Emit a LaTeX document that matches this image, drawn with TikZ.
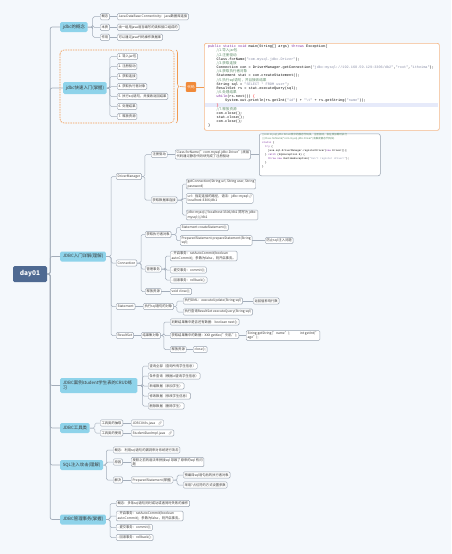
\documentclass[tikz,border=0pt]{standalone}
\usepackage{fontspec}
\setmainfont{Noto Sans CJK SC}
\newfontfamily\zhfont{Noto Sans CJK SC}
\newfontfamily\codefont{Liberation Mono}
\newfontfamily\emojifont{Noto Emoji}
\usetikzlibrary{decorations.pathreplacing}

\definecolor{bgblue}{HTML}{F4F8FC}
\definecolor{linegray}{HTML}{A3ADBA}
\definecolor{leafgray}{HTML}{97A1AE}
\definecolor{topicblue}{HTML}{8ED3EA}
\definecolor{rootblue}{HTML}{4F6A92}
\definecolor{txtgray}{HTML}{3A3A3A}
\definecolor{orangeline}{HTML}{F29A50}
\definecolor{orangetag}{HTML}{F08A3A}
\definecolor{codeborder}{HTML}{F5B98A}
\definecolor{hilite}{HTML}{E6EAFA}
\definecolor{kwpurple}{HTML}{7F2FA0}
\definecolor{strgray}{HTML}{8A8FA8}
\definecolor{cmgreen}{HTML}{5E8C6A}

\newcommand\kw[1]{{\color{kwpurple}#1}}
\newcommand\strg[1]{{\color{strgray}#1}}
\newcommand\cmt[1]{{\zhfont\color{cmgreen}#1}}
\newcommand\codeind[1]{\hspace*{#1}}
\newcommand\codeA{\codefont\fontsize{3.55}{4.16}\selectfont\lineskiplimit -5pt\relax}
\newcommand\codeB{\codefont\fontsize{2.55}{4.0}\selectfont\lineskiplimit -5pt\relax}

\tikzset{
  rootbox/.style={fill=rootblue, text=white, rounded corners=1.5pt, minimum width=34pt,
    minimum height=16pt, font=\fontsize{6.5}{7}\selectfont\bfseries},
  topic/.style={fill=topicblue, text=txtgray, rounded corners=1.5pt, anchor=west,
    inner xsep=2.6pt, inner ysep=1pt, minimum height=10pt, align=left,
    font=\fontsize{4.4}{5.4}\selectfont},
  leaf/.style={draw=leafgray, line width=0.45pt, fill=white, text=txtgray, rounded corners=1.2pt,
    anchor=west, inner xsep=1.4pt, inner ysep=1pt, minimum height=6.2pt, align=left,
    font=\fontsize{3.3}{4.3}\selectfont},
  trunk/.style={draw=linegray, line width=0.7pt, rounded corners=2pt},
  link/.style={draw=linegray, line width=0.5pt, rounded corners=1.5pt},
  orangelink/.style={draw=orangeline, line width=0.6pt},
  codetag/.style={fill=orangetag, text=white, rounded corners=1pt, inner xsep=1.5pt,
    minimum height=8pt, font=\fontsize{3.6}{4}\selectfont},
  codebox/.style={draw=codeborder, line width=0.7pt, fill=white, rounded corners=2pt, anchor=north west},
  codebox2/.style={draw=leafgray, line width=0.5pt, fill=white, rounded corners=2pt, anchor=north west},
  codetext/.style={anchor=north west, inner sep=0pt, align=left, text=black}
}

\begin{document}
\begin{tikzpicture}[x=1pt,y=-1pt]
\fill[bgblue] (0,0) rectangle (451,554);
\useasboundingbox (0,0) rectangle (451,554);

% root and main topics
\node[rootbox] (root) at (30,274) {day01};
\node[topic] (gainian) at (60,27) {jdbc的概念};
\node[topic, minimum height=12pt] (kuaisu) at (63,88) {jdbc快速入门(掌握)};
\node[topic] (xiangjie) at (60,256.5) {JDBC入门详解(理解)};
\node[topic, text width=72pt, minimum height=15pt] (anli) at (60,385.5) {JDBC案例student学生表的CRUD练\\习};
\node[topic] (gongju) at (60,428) {JDBC工具类};
\node[topic] (zhuru) at (60,465) {SQL注入攻击(理解)};
\node[topic] (shiwu) at (60,519.5) {JDBC管理事务(掌握)};
\foreach \t in {gainian,kuaisu,xiangjie,anli,gongju,zhuru,shiwu}
  \draw[trunk] (root.east) -- ++(3,0) |- (\t.west);

% jdbc的概念
\node[leaf] (gn1) at (100,16.7) {概念};
\node[leaf] (gn2) at (100,27.3) {本质};
\node[leaf] (gn3) at (100,37.3) {作用};
\node[leaf] (gn1a) at (117,16.7) {Java DataBase Connectivity：java数据库连接};
\node[leaf] (gn2a) at (117,27.3) {由一组用java语言编写的类和接口组成的};
\node[leaf] (gn3a) at (117,37.3) {可以通过java代码操作数据库};
\foreach \c in {gn1,gn2,gn3}
  \draw[link] (gainian.east) -- ++(5,0) |- (\c.west);
\draw[link] (gn1) -- (gn1a);
\draw[link] (gn2) -- (gn2a);
\draw[link] (gn3) -- (gn3a);

% jdbc快速入门
\draw[orangeline, line width=0.6pt, dash pattern=on 1.5pt off 1pt, rounded corners=4pt] (60,50) rectangle (174,123);
\foreach \txt [count=\k] in {1. 导入jar包, 2. 注册驱动, 3. 获取连接, 4. 获取执行者对象,
    5. 执行sql语句，并接收返回结果, 6. 处理结果, 7. 释放资源}
  \node[leaf] (ks\k) at (117,46.5+10*\k) {\txt};
\foreach \k in {1,...,7}
  \draw[link] (kuaisu.east) -- ++(3,0) |- (ks\k.west);
\draw[orangeline, line width=0.6pt, decorate, decoration={brace, amplitude=3pt}] (176,50) -- (176,123);
\coordinate (bracetip) at (180,86.5);
\node[codetag] (daima) at (191,87) {代码};
\node[codebox, minimum width=235pt, minimum height=87pt] (code1) at (204,43) {};
\fill[hilite] (205,103.1) rectangle (438,107.3);
\draw[orangelink] (bracetip) -- (daima.west);
\draw[orangelink] (daima.east) -- (daima.east -| code1.west);
\node[codetext, font=\codeA] (code1txt) at (208,45) {%
\kw{public static void} main(String[] args) \kw{throws} Exception\{\\
\codeind{8.5pt}\cmt{//1.导入jar包}\\
\codeind{8.5pt}\cmt{//2.注册驱动}\\
\codeind{8.5pt}Class.forName(\strg{"com.mysql.jdbc.Driver"});\\
\codeind{8.5pt}\cmt{//3.获取连接}\\
\codeind{8.5pt}Connection con = DriverManager.getConnection(\strg{"jdbc:mysql://192.168.59.129:3306/db2"},\strg{"root"},\strg{"itheima"});\\
\codeind{8.5pt}\cmt{//4.获取执行者对象}\\
\codeind{8.5pt}Statement stat = con.createStatement();\\
\codeind{8.5pt}\cmt{//5.执行sql语句，并且接收结果}\\
\codeind{8.5pt}String sql = \strg{"SELECT * FROM user"};\\
\codeind{8.5pt}ResultSet rs = stat.executeQuery(sql);\\
\codeind{8.5pt}\cmt{//6.处理结果}\\
\codeind{8.5pt}\kw{while}(rs.next()) {\color{red}\{}\\
\codeind{17pt}System.out.println(rs.getInt(\strg{"id"}) + \strg{"\textbackslash t"} + rs.getString(\strg{"name"}));\\
\codeind{8.5pt}{\color{red}\}}\\
\codeind{8.5pt}\cmt{//7.释放资源}\\
\codeind{8.5pt}con.close();\\
\codeind{8.5pt}stat.close();\\
\codeind{8.5pt}con.close();\\
\}};

% JDBC入门详解
\node[leaf] (dm) at (116,176.5) {DriverManager};
\node[leaf] (conn) at (116,263) {Connection};
\node[leaf] (stmt) at (116,306.5) {Statement};
\node[leaf] (rset) at (116,335.5) {ResultSet};
\foreach \c in {dm,conn,stmt,rset}
  \draw[link] (xiangjie.east) -- ++(5,0) |- (\c.west);

% DriverManager
\node[leaf] (zcqd) at (151,154.5) {注册驱动};
\node[leaf] (hqlj) at (151,200) {获取数据库连接};
\foreach \c in {zcqd,hqlj}
  \draw[link] (dm.east) -- ++(3,0) |- (\c.west);
\node[leaf] (zcqda) at (175,154.5) {Class.forName("com.mysql.jdbc.Driver")底层\\代码通过静态代码块完成了注册驱动};
\draw[link] (zcqd) -- (zcqda);
\node[codebox2, minimum width=121pt, minimum height=42pt] (code2) at (259,133.5) {};
\draw[link] (zcqda.east) -- (zcqda.east -| code2.west);
\node[codetext, font=\codeB] (code2txt) at (262,133.6) {%
\cmt{//com.mysql.jdbc.Driver类中的静态代码块，注册驱动，会在类加载时执行}\\
\cmt{//(Class.forName("com.mysql.jdbc.Driver")会触发静态代码块)}\\
\kw{static} \{\\
\codeind{3pt}\kw{try} \{\\
\codeind{6pt}java.sql.DriverManager.registerDriver(\kw{new} Driver());\\
\codeind{3pt}\} \kw{catch} (SQLException E) \{\\
\codeind{6pt}\kw{throw new} RuntimeException(\strg{"Can't register driver!"});\\
\codeind{3pt}\}\\
\}};
\node[leaf] (hqlj1) at (186,184) {getConnection(String url, String user, String\\password)};
\node[leaf] (hqlj2) at (186,198.5) {url：指定连接的路径，语法：jdbc:mysql://\\localhost:3306/db1};
\node[leaf] (hqlj3) at (186,215) {jdbc:mysql://localhost:3306/db1 简写为 jdbc:\\mysql:///db1};
\foreach \c in {hqlj1,hqlj2,hqlj3}
  \draw[link] (hqlj.east) -- ++(5,0) |- (\c.west);

% Connection
\node[leaf] (zxz) at (145,234.5) {获取执行者对象};
\node[leaf] (glsw) at (145,269) {管理事务};
\node[leaf] (sfzy) at (145,291.5) {释放资源};
\foreach \c in {zxz,glsw,sfzy}
  \draw[link] (conn.east) -- ++(4,0) |- (\c.west);
\node[leaf] (zxz1) at (180,227.5) {Statement createStatement();};
\node[leaf] (zxz2) at (180,240.5) {PreparedStatement prepareStatement(String\\sql);};
\foreach \c in {zxz1,zxz2}
  \draw[link] (zxz.east) -- ++(5,0) |- (\c.west);
\node[leaf] (fzzr) at (265,240.5) {防止sql 注入问题};
\draw[link] (zxz2) -- (fzzr);
\node[leaf] (glsw1) at (170,256) {- 开启事务：setAutoCommit(boolean\\autoCommit)；参数为false，则开启事务。};
\node[leaf] (glsw2) at (170,270) {- 提交事务：commit();};
\node[leaf] (glsw3) at (170,280) {- 回滚事务：rollback();};
\foreach \c in {glsw1,glsw2,glsw3}
  \draw[link] (glsw.east) -- ++(4,0) |- (\c.west);
\node[leaf] (vclose) at (170,291.5) {void close();};
\draw[link] (sfzy) -- (vclose);

% Statement
\node[leaf] (zxsql) at (143,306.5) {执行sql语句的对象};
\draw[link] (stmt) -- (zxsql);
\node[leaf] (dml) at (183,301) {执行DML：executeUpdate(String sql)};
\node[leaf] (dql) at (183,312) {执行查询ResultSet executeQuery(String sql)};
\foreach \c in {dml,dql}
  \draw[link] (zxsql.east) -- ++(3,0) |- (\c.west);
\node[leaf] (yxhs) at (253,301) {返回值影响行数};
\draw[link] (dml) -- (yxhs);

% ResultSet
\node[leaf] (jgj) at (141,335.5) {结果集对象};
\draw[link] (rset) -- (jgj);
\node[leaf] (next) at (170,322) {判断结果集中是否还有数据：boolean next();};
\node[leaf] (getx) at (170,335.5) {获取结果集中的数据：XXX getXxx("列名");};
\node[leaf] (rsclose) at (170,349.5) {释放资源};
\foreach \c in {next,getx,rsclose}
  \draw[link] (jgj.east) -- ++(3,0) |- (\c.west);
\node[leaf] (getstr) at (246,335.5) {String getString("name");\hspace{10pt}int getInt("\\age");};
\draw[link] (getx) -- (getstr);
\node[leaf] (close) at (193,349.5) {close();};
\draw[link] (rsclose) -- (close);

% JDBC案例
\node[leaf] (al1) at (148,366) {查询全部（查询所有学生信息）};
\node[leaf] (al2) at (148,376) {条件查询（根据id查询学生信息）};
\node[leaf] (al3) at (148,386) {新增数据（添加学生）};
\node[leaf] (al4) at (148,396) {修改数据（修改学生信息）};
\node[leaf] (al5) at (148,406) {删除数据（删除学生）};
\foreach \c in {al1,al2,al3,al4,al5}
  \draw[link] (anli.east) -- ++(5,0) |- (\c.west);

% JDBC工具类
\node[leaf] (gj1) at (100,423) {工具类的抽取};
\node[leaf] (gj2) at (100,433) {工具类的使用};
\foreach \c in {gj1,gj2}
  \draw[link] (gongju.east) -- ++(5,0) |- (\c.west);
\node[leaf] (gj1a) at (131,423) {JDBCUtils.java\hspace{3pt}{\emojifont\color{gray}🔗}};
\node[leaf] (gj2a) at (131,433) {StudentDaoImpl.java\hspace{3pt}{\emojifont\color{gray}🔗}};
\draw[link] (gj1) -- (gj1a);
\draw[link] (gj2) -- (gj2a);

% SQL注入攻击
\node[leaf] (zr1) at (113,450) {概念：利用sql语句的漏洞来对系统进行攻击};
\node[leaf] (zr2) at (113,462) {原因};
\node[leaf] (zr3) at (113,480) {解决};
\foreach \c in {zr1,zr2,zr3}
  \draw[link] (zhuru.east) -- ++(3,0) |- (\c.west);
\node[leaf] (zr2a) at (131,462) {按照之前的语法来拼接sql 导致了原来的sql 有问\\题};
\draw[link] (zr2) -- (zr2a);
\node[leaf] (pst) at (131,480) {PreparedStatement(掌握)};
\draw[link] (zr3) -- (pst);
\node[leaf] (pst1) at (183,475) {预编译sql语句后的执行者对象};
\node[leaf] (pst2) at (183,485) {采用?占位符的方式设置参数};
\foreach \c in {pst1,pst2}
  \draw[link] (pst.east) -- ++(4,0) |- (\c.west);

% JDBC管理事务
\node[leaf] (sw1) at (116,503.5) {概念：多条sql语句同时成功或者同时失败的操作};
\node[leaf] (sw2) at (116,516) {- 开启事务：setAutoCommit(boolean\\autoCommit)；参数为false，则开启事务。};
\node[leaf] (sw3) at (116,527.5) {- 提交事务：commit();};
\node[leaf] (sw4) at (116,537.5) {- 回滚事务：rollback();};
\foreach \c in {sw1,sw2,sw3,sw4}
  \draw[link] (shiwu.east) -- ++(4,0) |- (\c.west);
\end{tikzpicture}
\end{document}
